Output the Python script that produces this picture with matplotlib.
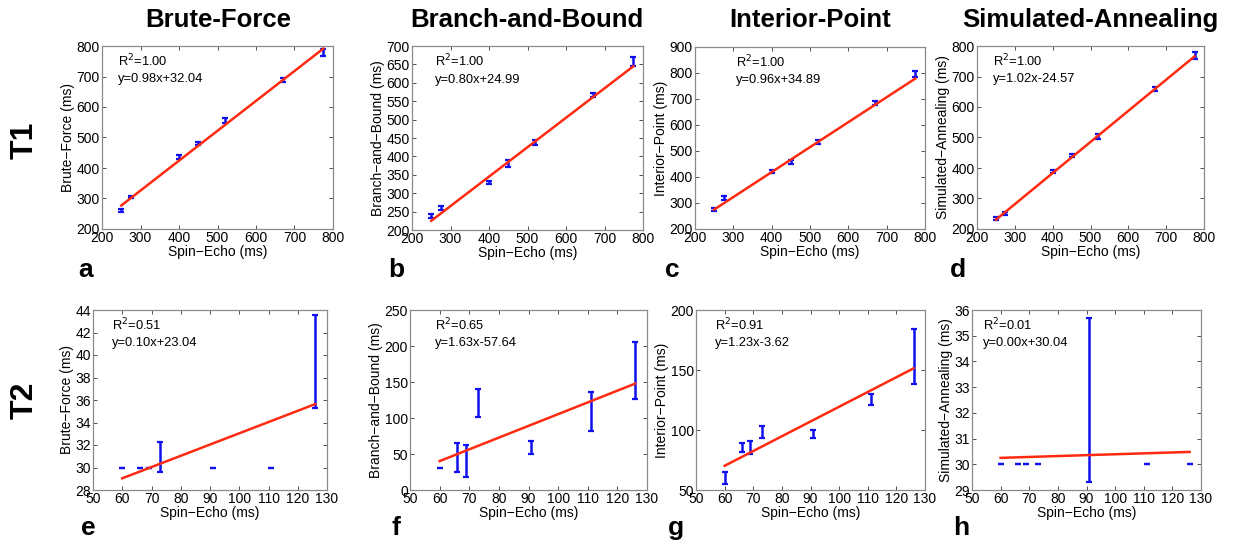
import matplotlib
matplotlib.use('Agg')
import matplotlib.pyplot as plt

plt.rcParams['font.family'] = ['Liberation Sans', 'DejaVu Sans']

methods = ['Brute-Force', 'Branch-and-Bound', 'Interior-Point', 'Simulated-Annealing']
ylabels = ['Brute\u2212Force (ms)', 'Branch\u2212and\u2212Bound (ms)', 'Interior\u2212Point (ms)', 'Simulated\u2212Annealing (ms)']

# T1 data (spin echo reference vs each method)
x_t1 = [250, 275, 400, 450, 520, 670, 775]
y_t1 = [
    [260, 305, 435, 480, 555, 688, 778],
    [238, 260, 330, 380, 437, 567, 658],
    [275, 318, 422, 457, 533, 683, 795],
    [235, 250, 390, 440, 503, 660, 768],
]
err_t1 = [
    [5, 4, 6, 4, 9, 6, 11],
    [6, 5, 4, 10, 7, 5, 12],
    [6, 7, 6, 8, 8, 8, 12],
    [5, 5, 5, 5, 8, 7, 12],
]
slope_t1 = [0.98, 0.80, 0.96, 1.02]
icpt_t1 = [32.04, 24.99, 34.89, -24.57]
r2_t1 = [1.00, 1.00, 1.00, 1.00]

# T2 data
x_t2 = [60, 66, 69, 73, 91, 111, 126]
y_t2 = [
    [30, 30, 30, 30.95, 30, 30, 39.45],
    [30, 45, 40, 121, 59, 109, 166],
    [60, 85.5, 85.5, 98, 96.5, 125.5, 161],
    [30, 30, 30, 30, 32.5, 30, 30],
]
err_t2 = [
    [0, 0, 0, 1.35, 0, 0, 4.15],
    [0, 20, 22, 19, 9, 27, 39],
    [5, 3.5, 5.5, 5, 3.5, 4.5, 23],
    [0, 0, 0, 0, 3.2, 0, 0],
]
slope_t2 = [0.10, 1.63, 1.23, 0.0035]
icpt_t2 = [23.04, -57.64, -3.62, 30.04]
r2_t2 = [0.51, 0.65, 0.91, 0.01]

ylim_t1 = [(200, 800), (200, 700), (200, 900), (200, 800)]
ystep_t1 = [100, 50, 100, 100]
ylim_t2 = [(28, 44), (0, 250), (50, 200), (29, 36)]
ystep_t2 = [2, 50, 50, 1]

letters = ['a', 'b', 'c', 'd', 'e', 'f', 'g', 'h']

W, H = 1238, 549
fig = plt.figure(figsize=(W / 100, H / 100), dpi=100)

# pixel boxes (left, right, top, bottom)
boxes_t1 = [(102, 333, 46, 229), (412, 643, 46, 230), (695, 925, 47, 229), (977, 1204, 46, 229)]
boxes_t2 = [(93, 327, 310, 490), (410, 647, 310, 490), (696, 925, 310, 490), (972, 1201, 310, 490)]
text_x_t1 = [0.07, 0.10, 0.18, 0.07]
text_x_t2 = [0.08, 0.105, 0.083, 0.05]
letter_x = [78, 388, 665, 950]
title_x = [218, 527, 810, 1090]


def fmt_eq(m, b):
    s = 'y=%.2fx' % m
    if b < 0:
        s += '-%.2f' % abs(b)
    else:
        s += '+%.2f' % b
    return s


def panel(box, x, y, e, m, b, r2, ylim, ystep, ylabel, tx):
    l, r, t, bt = box
    ax = fig.add_axes([l / W, 1 - bt / H, (r - l) / W, (bt - t) / H])
    ax.errorbar(x, y, yerr=e, fmt='none', ecolor='#1010ee', elinewidth=1.8,
                capsize=2.2, capthick=1.6, zorder=2)
    xs = [min(x), max(x)]
    ax.plot(xs, [m * v + b for v in xs], color='#ff2a10', lw=1.8, zorder=3)
    ax.set_ylim(*ylim)
    ax.set_yticks(list(range(ylim[0], ylim[1] + 1, ystep)))
    ax.text(tx, 0.965, 'R$^2$=%.2f' % r2, transform=ax.transAxes, fontsize=9.3, va='top')
    ax.text(tx, 0.85, fmt_eq(m, b), transform=ax.transAxes, fontsize=9.3, va='top')
    ax.set_xlabel('Spin\u2212Echo (ms)', fontsize=10, labelpad=0)
    ax.set_ylabel(ylabel, fontsize=10, labelpad=1)
    ax.tick_params(direction='in', top=True, right=True, length=3, width=0.6,
                   labelsize=10, pad=1.5, color='#333333')
    for s in ax.spines.values():
        s.set_color('#8a8a8a')
        s.set_linewidth(0.9)
    return ax


for i in range(4):
    ax = panel(boxes_t1[i], x_t1, y_t1[i], err_t1[i], slope_t1[i], icpt_t1[i], r2_t1[i],
               ylim_t1[i], ystep_t1[i], ylabels[i], text_x_t1[i])
    ax.set_xlim(200, 800)
    ax.set_xticks(range(200, 801, 100))

    ax = panel(boxes_t2[i], x_t2, y_t2[i], err_t2[i], slope_t2[i], icpt_t2[i], r2_t2[i],
               ylim_t2[i], ystep_t2[i], ylabels[i], text_x_t2[i])
    ax.set_xlim(50, 130)
    ax.set_xticks(range(50, 131, 10))

    fig.text(title_x[i] / W, 1 - 20 / H, methods[i], fontsize=18.5, fontweight='bold',
             ha='center', va='center')
    fig.text(letter_x[i] / W, 1 - 270 / H, letters[i], fontsize=19, fontweight='bold',
             ha='left', va='center')
    fig.text(letter_x[i] / W + 3 / W, 1 - 528 / H, letters[i + 4], fontsize=19,
             fontweight='bold', ha='left', va='center')

fig.text(25 / W, 1 - 140 / H, 'T1', fontsize=23, fontweight='bold', rotation=90,
         ha='center', va='center')
fig.text(25 / W, 1 - 400 / H, 'T2', fontsize=23, fontweight='bold', rotation=90,
         ha='center', va='center')

fig.savefig('out.png', dpi=100)
